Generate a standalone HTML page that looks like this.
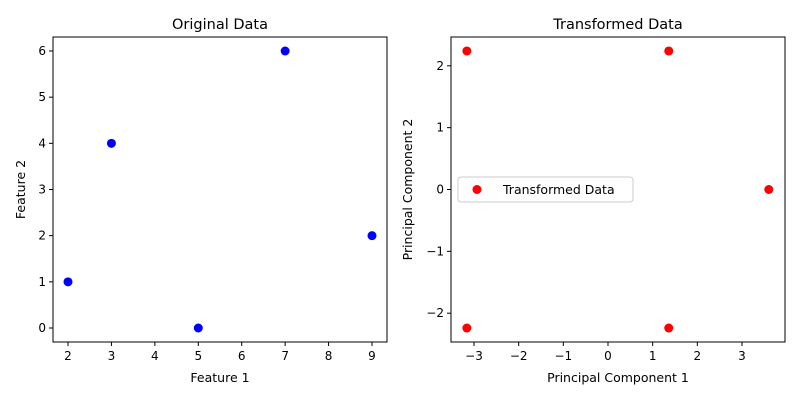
<!DOCTYPE html>
<html><head><meta charset="utf-8"><style>
body{margin:0;background:#fff;font-family:"Liberation Sans","DejaVu Sans",sans-serif}
</style></head><body>
<svg id="c" width="800" height="400" xmlns="http://www.w3.org/2000/svg" font-family="DejaVu Sans, Liberation Sans, sans-serif"></svg>
<script>
const origX=[2,3,5,7,9];
const origY=[1,4,0,6,2];
const transX=[-3.16,1.36,3.6,-3.16,1.36];
const transY=[2.24,2.24,0,-2.24,-2.24];
const leftXTicks=[2,3,4,5,6,7,8,9];
const leftYTicks=[0,1,2,3,4,5,6];
const rightXTicks=[-3,-2,-1,0,1,2,3];
const rightYTicks=[-2,-1,0,1,2];
const svg=document.getElementById('c');
const NS='http://www.w3.org/2000/svg';
function mk(t,a,txt){const e=document.createElementNS(NS,t);for(const k in a)e.setAttribute(k,a[k]);if(txt!==undefined)e.textContent=txt;svg.appendChild(e);return e;}
function panel(o){
  const sx=v=>o.x0+(v-o.xmin)/(o.xmax-o.xmin)*(o.x1-o.x0);
  const sy=v=>o.y1-(v-o.ymin)/(o.ymax-o.ymin)*(o.y1-o.y0);
  o.xt.forEach(t=>{const x=sx(t);
    const l=mk('line',{x1:x,x2:x,y1:o.y1,y2:o.y1+4,stroke:'#000'});
    
    
    const s=mk('text',{x:x,y:o.y1+18,'text-anchor':'middle','font-size':12},String(t).replace('-','\u2212'));
    
    });
  o.yt.forEach(t=>{const y=sy(t);
    const l=mk('line',{x1:o.x0-4,x2:o.x0,y1:y,y2:y,stroke:'#000'});
    
    
    const s=mk('text',{x:o.x0-7,y:y+4,'text-anchor':'end','font-size':12},String(t).replace('-','\u2212'));
    
    });
  o.px.forEach((v,i)=>{const p=mk('circle',{cx:sx(v),cy:sy(o.py[i]),r:4.5,fill:o.col});
    
    });
  const f=mk('rect',{x:o.x0,y:o.y0,width:o.x1-o.x0,height:o.y1-o.y0,fill:'none',stroke:'#000','stroke-width':1});
  
  
  const tt=mk('text',{x:(o.x0+o.x1)/2,y:o.y0-8,'text-anchor':'middle','font-size':14.5},o.title);
  
  
  const xl=mk('text',{x:(o.x0+o.x1)/2,y:o.y1+40,'text-anchor':'middle','font-size':12.5},o.xl);
  
  
  const yc=(o.y0+o.y1)/2;
  const yl=mk('text',{x:o.ylx,y:yc,'text-anchor':'middle','font-size':12.5,transform:`rotate(-90 ${o.ylx} ${yc})`},o.yl);
  
  
}
panel({x0:53,x1:387,y0:37,y1:342,xmin:2-15/43.43,xmax:9+15/43.43,ymin:-14/46.17,ymax:6+14/46.17,
  xt:leftXTicks,yt:leftYTicks,px:origX,py:origY,col:'#0000ff',title:'Original Data',xl:'Feature 1',yl:'Feature 2',ylx:25});
panel({x0:451,x1:785,y0:37,y1:342,xmin:-3-23/44.67,xmax:3+43/44.67,ymin:-2.24-14/62,ymax:2.24+14/62,
  xt:rightXTicks,yt:rightYTicks,px:transX,py:transY,col:'#ff0000',title:'Transformed Data',xl:'Principal Component 1',yl:'Principal Component 2',ylx:412});
const lg=mk('rect',{x:458,y:177,width:175,height:25,rx:3,fill:'#fff',stroke:'#ccc'});


const lm=mk('circle',{cx:477,cy:189.5,r:4.5,fill:'#ff0000'});


const lt=mk('text',{x:503,y:194,'font-size':12.5},'Transformed Data');


</script>
</body></html>
